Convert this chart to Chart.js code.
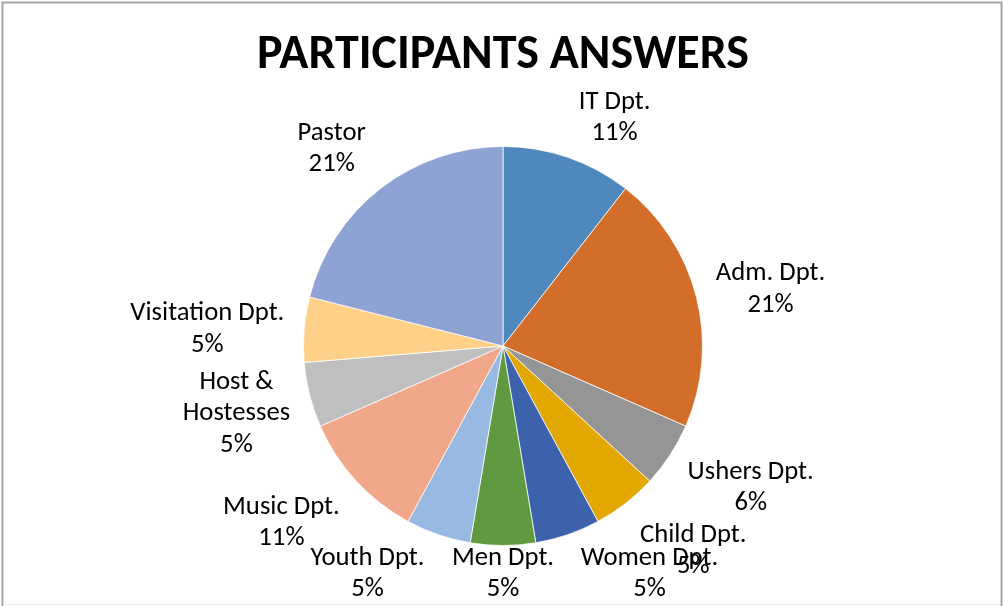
<!DOCTYPE html>
<html>
<head>
<meta charset="utf-8">
<script src="https://cdn.jsdelivr.net/npm/chart.js@4.4.1/dist/chart.umd.min.js"></script>
<style>
  html, body { margin: 0; padding: 0; background: #ffffff; }
  #wrap { position: relative; width: 1003px; height: 606px; }
</style>
</head>
<body>
<div id="wrap"><canvas id="c" width="1003" height="606"></canvas></div>
<script>
// ---- data ----
const chartTitle = 'PARTICIPANTS ANSWERS';
const categories = ['IT Dpt.', 'Adm. Dpt.', 'Ushers Dpt.', 'Child Dpt.', 'Women Dpt.', 'Men Dpt.',
                    'Youth Dpt.', 'Music Dpt.', 'Host & Hostesses', 'Visitation Dpt.', 'Pastor'];
const answers = [2, 4, 1, 1, 1, 1, 1, 2, 1, 1, 4];
const percentLabels = ['11%', '21%', '6%', '5%', '5%', '5%', '5%', '11%', '5%', '5%', '21%'];

// ---- styling ----
const sliceColors = ['#4E88BC', '#D26E2A', '#959595', '#E2A700', '#3C62AC', '#5F9A41',
                     '#98B9E1', '#F0A78A', '#BFBFBF', '#FFD088', '#8FA2D4'];
// label placement: [angle shift from slice middle (deg), distance as multiple of radius]
const labelPlacement = [[6.9, 1.283], [1.8, 1.373], [-3.7, 1.426], [-5.3, 1.393], [-14, 1.35], [0, 1.133],
                        [12, 1.321], [4.4, 1.414], [0.4, 1.376], [-1.1, 1.485], [-2.8, 1.317]];
const FONT = 'Carlito, Lato, "Open Sans", sans-serif';
const LABEL_SIZE = 26.7;
const TITLE_SIZE = 48;
const LINE_H = 31.5;
const LABEL_SHIFT_Y = 2;
const WRAP_W = 175;

function wrapText(ctx, text, maxW) {
  const words = text.split(' ');
  const lines = [];
  let cur = '';
  for (const w of words) {
    const t = cur ? cur + ' ' + w : w;
    if (cur && ctx.measureText(t).width > maxW) { lines.push(cur); cur = w; }
    else cur = t;
  }
  if (cur) lines.push(cur);
  return lines;
}

const decorPlugin = {
  id: 'decor',
  beforeDraw(chart) {
    const ctx = chart.ctx;
    ctx.save();
    ctx.fillStyle = '#ffffff';
    ctx.fillRect(0, 0, chart.width, chart.height);
    ctx.strokeStyle = '#A6A6A6';
    ctx.lineWidth = 2;
    ctx.beginPath();
    ctx.moveTo(2.5, chart.height);
    ctx.lineTo(2.5, 2.5);
    ctx.lineTo(chart.width - 1.5, 2.5);
    ctx.lineTo(chart.width - 1.5, chart.height);
    ctx.stroke();
    ctx.strokeStyle = '#EAEAEA';
    ctx.lineWidth = 1;
    ctx.beginPath();
    ctx.moveTo(3, chart.height - 1.5);
    ctx.lineTo(chart.width - 3, chart.height - 1.5);
    ctx.stroke();
    ctx.restore();
  },
  afterDraw(chart) {
    const ctx = chart.ctx;
    ctx.save();
    // title
    ctx.fillStyle = '#000000';
    ctx.font = 'bold ' + TITLE_SIZE + 'px ' + FONT;
    ctx.textAlign = 'center';
    ctx.textBaseline = 'alphabetic';
    ctx.fillText(chartTitle, (chart.chartArea.left + chart.chartArea.right) / 2, 68);

    // data labels
    ctx.font = LABEL_SIZE + 'px ' + FONT;
    ctx.textBaseline = 'middle';
    const meta = chart.getDatasetMeta(0);
    meta.data.forEach((arc, i) => {
      const p = arc.getProps(['x', 'y', 'startAngle', 'endAngle', 'outerRadius'], true);
      const mid = (p.startAngle + p.endAngle) / 2;
      const [da, k] = labelPlacement[i];
      const a = mid + da * Math.PI / 180;
      const cx = p.x + k * p.outerRadius * Math.cos(a);
      const cy = p.y + k * p.outerRadius * Math.sin(a) + LABEL_SHIFT_Y;
      const lines = wrapText(ctx, categories[i], WRAP_W).concat([percentLabels[i]]);
      const top = cy - (lines.length - 1) * LINE_H / 2;
      lines.forEach((ln, j) => ctx.fillText(ln, cx, top + j * LINE_H));
    });
    ctx.restore();
  }
};

new Chart(document.getElementById('c'), {
  type: 'pie',
  data: {
    labels: categories,
    datasets: [{
      data: answers,
      backgroundColor: sliceColors,
      borderColor: 'rgba(255,255,255,0.75)',
      borderWidth: 1,
      hoverOffset: 0,
      offset: 0
    }]
  },
  options: {
    responsive: false,
    animation: false,
    devicePixelRatio: 1,
    events: [],
    layout: { padding: { top: 146, bottom: 60, left: 303, right: 300 } },
    plugins: {
      legend: { display: false },
      tooltip: { enabled: false },
      title: { display: false }
    }
  },
  plugins: [decorPlugin]
});
</script>
</body>
</html>
